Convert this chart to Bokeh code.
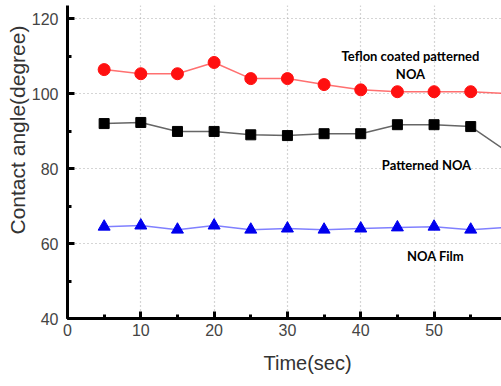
from bokeh.plotting import figure
from bokeh.models import SingleIntervalTicker, Range1d, Label, Title
from bokeh.embed import file_html
from bokeh.resources import INLINE

time = [5, 10, 15, 20, 25, 30, 35, 40, 45, 50, 55, 60]
teflon = [106.4, 105.3, 105.3, 108.3, 104.0, 104.0, 102.4, 101.0, 100.5, 100.5, 100.5, 100.0]
patterned = [92.0, 92.3, 89.9, 89.9, 89.0, 88.8, 89.3, 89.3, 91.7, 91.7, 91.2, 84.5]
film = [64.5, 64.8, 63.7, 64.8, 63.7, 64.0, 63.7, 64.0, 64.3, 64.5, 63.7, 64.3]

FONT = "Liberation Sans"

p = figure(width=501, height=386, output_backend="svg", toolbar_location=None,
           x_range=Range1d(0, 59.2), y_range=Range1d(40, 123.5),
           min_border_left=67, min_border_right=0, min_border_top=5, min_border_bottom=68)
p.outline_line_color = None
p.background_fill_color = "white"
p.border_fill_color = "white"

p.xaxis.ticker = SingleIntervalTicker(interval=10, num_minor_ticks=2)
p.yaxis.ticker = SingleIntervalTicker(interval=20, num_minor_ticks=2)
for ax in (p.xaxis, p.yaxis):
    ax.axis_line_color = "black"
    ax.axis_line_width = 3
    ax.major_tick_in = 7
    ax.major_tick_out = 0
    ax.minor_tick_in = 4
    ax.minor_tick_out = 0
    ax.major_tick_line_width = 3
    ax.minor_tick_line_width = 3
    ax.major_tick_line_color = "black"
    ax.minor_tick_line_color = "black"
    ax.major_label_text_font = FONT
    ax.major_label_text_font_size = "16px"
    ax.major_label_text_color = "#444444"
p.xaxis.major_label_standoff = 5
p.yaxis.major_label_standoff = 9

for g in (p.xgrid, p.ygrid):
    g.grid_line_color = "#aaaaaa"
    g.grid_line_dash = "1 3"
    g.grid_line_width = 1.2

p.line(time, teflon, line_color="#ff7070", line_width=1.5)
p.scatter(time, teflon, marker="circle", size=12, fill_color="#ff1010", line_color="#ff1010")
p.line(time, patterned, line_color="#666666", line_width=1.5)
p.scatter(time, patterned, marker="square", size=10, fill_color="black", line_color="black")
p.line(time, film, line_color="#8080ff", line_width=1.5)
p.scatter(time, film, marker="triangle", size=12, fill_color="#0000ee", line_color="#0000ee")

# axis titles as side titles so they can be shifted like the reference
ytitle = Title(text="Contact angle(degree)", align="left", offset=84,
               text_font=FONT, text_font_size="21px", text_font_style="normal",
               text_color="#333333", standoff=0)
p.add_layout(ytitle, "left")
xtitle = Title(text="Time(sec)", align="left", offset=196,
               text_font=FONT, text_font_size="20px", text_font_style="normal",
               text_color="#333333", standoff=22)
p.add_layout(xtitle, "below")

FL, FB = 67, 318  # frame left / bottom in page pixels

def sx(x):
    return x - FL

def sy(y):
    return FB - y

lab_kw = dict(text_font="Lato", text_font_size="13px", text_font_style="bold",
              text_color="black", text_align="center", text_baseline="middle",
              x_units="screen", y_units="screen")
p.add_layout(Label(x=sx(410), y=sy(55), text="Teflon coated patterned", **lab_kw))
p.add_layout(Label(x=sx(410), y=sy(73), text="NOA", **lab_kw))
p.add_layout(Label(x=sx(426), y=sy(164), text="Patterned NOA", **lab_kw))
p.add_layout(Label(x=sx(435), y=sy(255), text="NOA Film", **lab_kw))

open("out.html", "w").write(file_html(p, INLINE))
